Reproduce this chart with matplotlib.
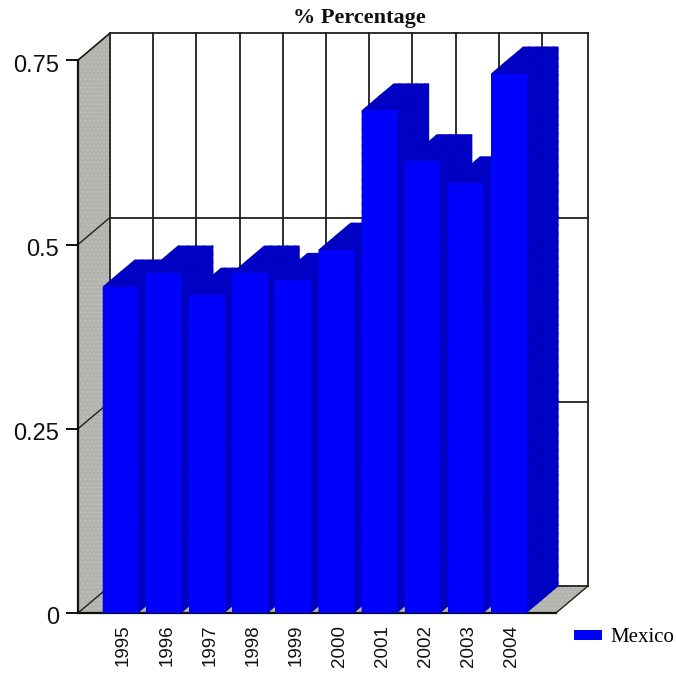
#!/usr/bin/env python3

# Pseudo 3D bar chart, depth is faked with polygons offset up and to the right.
import matplotlib
matplotlib.use("Agg")
import matplotlib.pyplot as plt
from matplotlib.patches import Patch, Polygon
from matplotlib.transforms import ScaledTranslation

years = ["1995", "1996", "1997", "1998", "1999", "2000", "2001", "2002", "2003", "2004"]
percentage = [0.443, 0.462, 0.432, 0.462, 0.452, 0.493, 0.682, 0.613, 0.583, 0.732]
y_ticks = [0, 0.25, 0.5, 0.75]
y_tick_labels = ["0", "0.25", "0.5", "0.75"]

W, H = 676, 673
PITCH = 43.15
DX = 32 / PITCH
DY = 27 / 737.0
BAR_W = 35.5 / PITCH
WALL = "#b4b4aa"
FRONT = "#0000ff"
DARK = "#0000cc"
LINE = "#202020"

plt.rcParams["font.family"] = ["Liberation Sans", "DejaVu Sans"]
plt.rcParams["hatch.linewidth"] = 0.4

fig = plt.figure(figsize=(W / 100, H / 100), dpi=100)
ax = fig.add_axes([78 / W, 1 - 613 / H, (556 - 78) / W, (613 - 60) / H])
x0 = (78 - 120.5) / PITCH
x1 = (556 - 120.5) / PITCH
ax.set_xlim(x0, x1)
ax.set_ylim(0, 553 / 737.0)
ax.patch.set_visible(False)
for s in ["top", "right"]:
    ax.spines[s].set_visible(False)
for s in ["left", "bottom"]:
    ax.spines[s].set_linewidth(1.6)
    ax.spines[s].set_color("#101010")

top = y_ticks[-1] + 0.0003


def poly(pts, **kw):
    p = Polygon(pts, closed=True, clip_on=False, **kw)
    ax.add_patch(p)
    return p


# left wall and floor
poly([(x0, 0), (x0 + DX, DY), (x0 + DX, top + DY), (x0, top)],
     facecolor=WALL, edgecolor="#c4c4e0", hatch="....", linewidth=0, zorder=1)
poly([(x0, 0), (x1, 0), (x1 + DX, DY), (x0 + DX, DY)],
     facecolor=WALL, edgecolor="#c4c4e0", hatch="....", linewidth=0, zorder=1)

# back wall grid
back_kw = dict(color=LINE, lw=1.3, clip_on=False, zorder=2, solid_capstyle="projecting")
for v in y_ticks:
    ax.plot([x0 + DX, x1 + DX], [v + DY, v + DY], **back_kw)
    ax.plot([x0, x0 + DX], [v, v + DY], color=LINE, lw=1.0, clip_on=False, zorder=2)
ax.plot([x0, x0 + DX], [top, top + DY], color=LINE, lw=1.0, clip_on=False, zorder=2)
ax.plot([x1, x1 + DX], [0, DY], color=LINE, lw=1.0, clip_on=False, zorder=2)
for k in range(0, 11):
    gx = x0 + DX + k * 43.2 / PITCH
    ax.plot([gx, gx], [DY, top + DY], **back_kw)
ax.plot([x1 + DX, x1 + DX], [DY, top + DY], **back_kw)

# bars, left to right so each one covers the side of the previous
for i, v in enumerate(percentage):
    l = i - BAR_W / 2
    r = i + BAR_W / 2
    # dark silhouette goes under the front face, so no seam can show
    poly([(l, 0), (l, v), (l + DX, v + DY), (r + DX, v + DY), (r + DX, DY), (r, 0)],
         facecolor=DARK, edgecolor="#0000a0", hatch="xxxx", linewidth=0, zorder=3 + i)
    ax.bar(i, v, width=BAR_W, color=FRONT, linewidth=0, zorder=3.5 + i)

ax.set_yticks(y_ticks)
ax.set_yticklabels(y_tick_labels, fontsize=17, color="#101010")
ax.set_xticks(range(len(years)))
ax.set_xticklabels(years, rotation=90, fontsize=13.5, color="#101010")
ax.tick_params(axis="y", length=8.5, width=1.4, pad=5, color="#101010")
ax.tick_params(axis="x", length=0, pad=8.5)

# labels sit a little off their ticks in the original
shift_x = ScaledTranslation(3 / 100, 0, fig.dpi_scale_trans)
for t in ax.get_xticklabels():
    t.set_transform(t.get_transform() + shift_x)
shift_y = ScaledTranslation(0, -3 / 100, fig.dpi_scale_trans)
for t in ax.get_yticklabels():
    t.set_transform(t.get_transform() + shift_y)

fig.text(359 / W, 1 - 18 / H, "% Percentage", family="Liberation Serif", weight="bold",
         fontsize=16, ha="center", va="center", color="#101010")

ax.legend(handles=[Patch(facecolor=FRONT, linewidth=0, label="Mexico")], loc="center left",
          bbox_to_anchor=(574 / W, 1 - 638 / H), bbox_transform=fig.transFigure,
          frameon=False, borderpad=0, borderaxespad=0, handlelength=1.35, handleheight=0.35,
          handletextpad=0.4, prop={"family": "Liberation Serif", "size": 15})

fig.savefig("out.png", dpi=100)
